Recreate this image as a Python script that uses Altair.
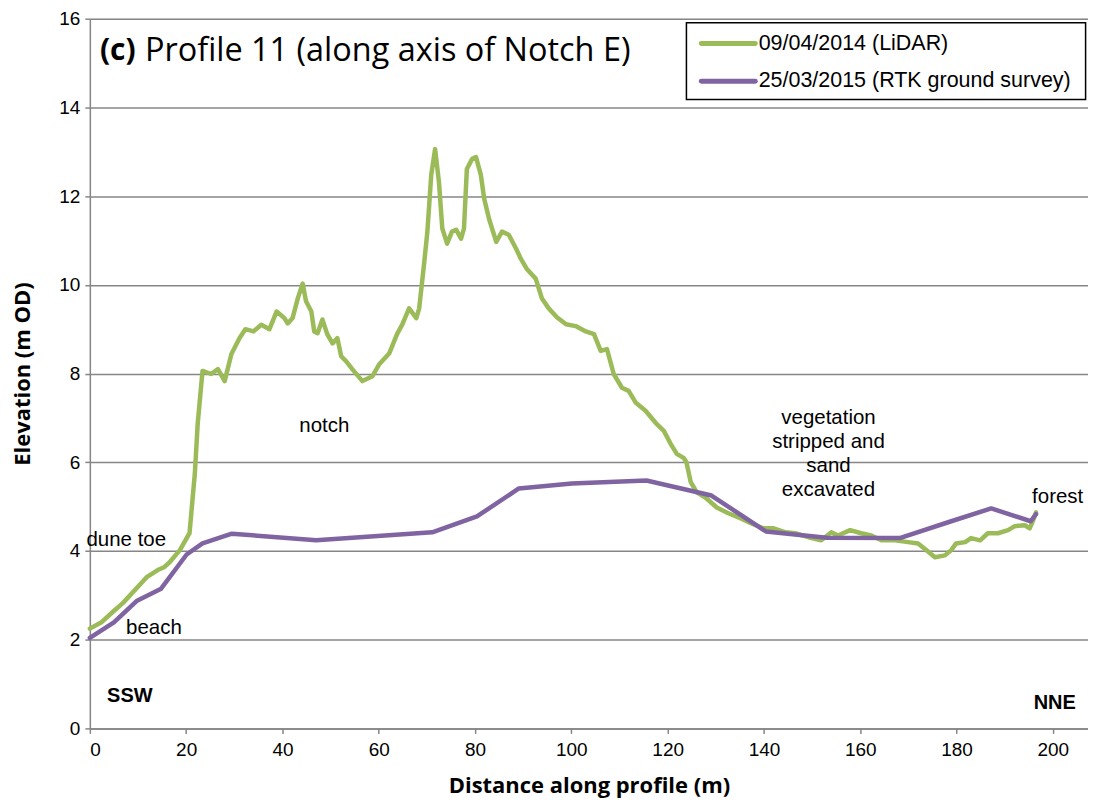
import altair as alt
import pandas as pd

# LiDAR 09/04/2014 (green)
green_x = [0, 2.5, 4.8, 6.9, 9.7, 11.8, 14.1, 15.5, 16.6, 18.7, 20.7, 21.8, 22.4, 23.4, 25.2, 26.6, 28.0, 29.4,
           31.1, 32.3, 34.0, 35.6, 37.3, 38.8, 40.4, 41.1, 42.1, 43.2, 44.2, 44.9, 46.0, 46.6, 47.3, 48.3, 49.3,
           50.4, 51.4, 52.2, 53.2, 54.5, 56.6, 58.7, 60.1, 62.2, 63.8, 64.9, 66.3, 67.8, 68.4, 69.4, 70.1, 70.9,
           71.7, 72.5, 73.2, 74.2, 75.2, 76.1, 77.1, 77.7, 78.3, 79.4, 80.2, 81.2, 81.9, 82.9, 84.4, 85.6, 87.0,
           88.5, 89.5, 90.8, 92.6, 93.9, 95.3, 97.0, 98.9, 100.9, 103.0, 104.7, 106.1, 107.4, 108.8, 110.5, 111.9,
           113.4, 115.4, 117.5, 119.2, 120.6, 121.9, 123.3, 123.9, 124.8, 126.0, 127.9, 130.2, 132.6, 135.1, 137.4,
           139.9, 142.0, 144.5, 146.5, 149.2, 151.9, 154.0, 155.4, 157.9, 160.2, 162.3, 164.4, 167.3, 169.9, 172.0,
           173.7, 175.5, 177.6, 178.9, 179.9, 181.8, 183.0, 184.9, 186.5, 188.6, 190.7, 192.1, 194.2, 195.2, 195.9,
           196.5]
green_y = [2.25, 2.40, 2.63, 2.83, 3.16, 3.41, 3.57, 3.64, 3.75, 4.02, 4.40, 5.74, 6.87, 8.06, 7.99, 8.10, 7.83, 8.44,
           8.80, 9.00, 8.95, 9.10, 9.00, 9.40, 9.25, 9.13, 9.25, 9.70, 10.03, 9.63, 9.40, 8.95, 8.91, 9.22, 8.89,
           8.68, 8.80, 8.39, 8.28, 8.10, 7.83, 7.94, 8.21, 8.46, 8.89, 9.11, 9.47, 9.25, 9.47, 10.46, 11.20, 12.48,
           13.06, 12.32, 11.27, 10.93, 11.20, 11.24, 11.04, 11.27, 12.61, 12.84, 12.88, 12.48, 11.94, 11.49, 10.97,
           11.20, 11.13, 10.82, 10.59, 10.35, 10.14, 9.69, 9.47, 9.27, 9.11, 9.07, 8.95, 8.89, 8.51, 8.55, 7.99,
           7.68, 7.61, 7.34, 7.16, 6.89, 6.71, 6.42, 6.19, 6.10, 6.00, 5.55, 5.33, 5.20, 4.98, 4.85, 4.74, 4.62,
           4.51, 4.51, 4.42, 4.40, 4.31, 4.24, 4.42, 4.35, 4.47, 4.40, 4.35, 4.24, 4.24, 4.20, 4.17, 4.02, 3.86,
           3.90, 4.02, 4.17, 4.20, 4.29, 4.24, 4.40, 4.40, 4.47, 4.56, 4.58, 4.51, 4.69, 4.87]

# RTK ground survey 25/03/2015 (purple)
purple_x = [0, 5.0, 9.7, 14.8, 20.1, 23.4, 29.5, 47.0, 71.1, 80.4, 89.1, 100.1, 115.6, 129.1, 140.4, 153.0, 168.2,
            178.9, 187.2, 195.4, 196.5]
purple_y = [2.04, 2.39, 2.87, 3.15, 3.92, 4.17, 4.39, 4.24, 4.42, 4.78, 5.41, 5.52, 5.59, 5.25, 4.44, 4.30, 4.29,
            4.67, 4.96, 4.67, 4.83]

series_names = ["09/04/2014 (LiDAR)", "25/03/2015 (RTK ground survey)"]
series_colors = ["#9BBB59", "#8064A2"]

y_ticks = [0, 2, 4, 6, 8, 10, 12, 14, 16]
x_ticks = [0, 20, 40, 60, 80, 100, 120, 140, 160, 180, 200]

# annotations (data coordinates)
ann_text = ["notch", "vegetation\nstripped and\nsand\nexcavated", "forest", "beach"]
ann_x = [48.7, 153.4, 201.0, 13.3]
ann_y = [6.78, 6.96, 5.18, 2.22]
dune_text = ["dune toe"]
dune_x = [-0.7]
dune_y = [4.24]
dir_text = ["SSW", "NNE"]
dir_x = [8.3, 200.4]
dir_y = [0.72, 0.58]

# legend layout (data coordinates)
leg_box = {"x": 123.9, "x2": 206.8, "y": 14.18, "y2": 15.91}
leg_line_x = [127.0, 138.2]
leg_row_y = [15.44, 14.59]
leg_text_x = 138.9

rows = []
for x, y in zip(green_x, green_y):
    rows.append({"x": x, "y": y, "series": series_names[0], "o": 0})
for x, y in zip(purple_x, purple_y):
    rows.append({"x": x, "y": y, "series": series_names[1], "o": 1})
df = pd.DataFrame(rows)

xscale = alt.Scale(domain=[0, 207.3], nice=False, zero=False)
yscale = alt.Scale(domain=[0, 16], nice=False)
cscale = alt.Scale(domain=series_names, range=series_colors)

lines = alt.Chart(df).mark_line(strokeWidth=4.5, strokeJoin="round", strokeCap="round", clip=False).encode(
    x=alt.X("x:Q", scale=xscale,
            axis=alt.Axis(title="Distance along profile (m)", values=x_ticks, grid=False,
                          labelFont="Liberation Sans", labelFontSize=19, labelColor="#000",
                          labelPadding=7, tickSize=5, tickColor="#868686", domainColor="#868686",
                          domainWidth=1.5, tickWidth=1.5,
                          titleFont="Open Sans", titleFontSize=22, titleFontWeight="bold", titleColor="#000",
                          titlePadding=16)),
    y=alt.Y("y:Q", scale=yscale,
            axis=alt.Axis(title="Elevation (m OD)", values=y_ticks, grid=True, gridColor="#868686",
                          gridWidth=1.5, labelFont="Liberation Sans", labelFontSize=19, labelColor="#000",
                          labelPadding=5, tickSize=5, tickColor="#868686", domainColor="#868686",
                          domainWidth=1.5, tickWidth=1.5,
                          titleFont="Open Sans", titleFontSize=22, titleFontWeight="bold", titleColor="#000",
                          titlePadding=24)),
    color=alt.Color("series:N", scale=cscale, legend=None),
    order="o:Q",
    detail="series:N",
)

ann_df = pd.DataFrame({"t": ann_text, "x": ann_x, "y": ann_y})
ann = alt.Chart(ann_df).mark_text(font="Liberation Sans", fontSize=20.5, color="#000", lineBreak="\n",
                                  lineHeight=24, baseline="top", dy=-12).encode(
    x=alt.X("x:Q", scale=xscale), y=alt.Y("y:Q", scale=yscale), text="t:N")

dune_df = pd.DataFrame({"t": dune_text, "x": dune_x, "y": dune_y})
dune = alt.Chart(dune_df).mark_text(font="Liberation Sans", fontSize=20.5, color="#000", align="left").encode(
    x=alt.X("x:Q", scale=xscale), y=alt.Y("y:Q", scale=yscale), text="t:N")

dir_df = pd.DataFrame({"t": dir_text, "x": dir_x, "y": dir_y})
dirs = alt.Chart(dir_df).mark_text(font="Liberation Sans", fontSize=20, fontWeight="bold", color="#000").encode(
    x=alt.X("x:Q", scale=xscale), y=alt.Y("y:Q", scale=yscale), text="t:N")

title_df = pd.DataFrame({"a": ["(c)"], "b": ["Profile 11 (along axis of Notch E)"], "x": [2.1], "y": [15.28]})
t1 = alt.Chart(title_df).mark_text(font="Open Sans", fontSize=30, fontWeight="bold", color="#000", align="left").encode(
    x=alt.X("x:Q", scale=xscale), y=alt.Y("y:Q", scale=yscale), text="a:N")
t2 = alt.Chart(title_df).mark_text(font="Open Sans", fontSize=32.5, color="#000", align="left", dx=45).encode(
    x=alt.X("x:Q", scale=xscale), y=alt.Y("y:Q", scale=yscale), text="b:N")

box_df = pd.DataFrame([leg_box])
box = alt.Chart(box_df).mark_rect(fill="#fff", stroke="#000", strokeWidth=1.5).encode(
    x=alt.X("x:Q", scale=xscale), x2="x2:Q", y=alt.Y("y:Q", scale=yscale), y2="y2:Q")

leg_df = pd.DataFrame({"series": series_names, "x": [leg_line_x[0]] * 2, "x2": [leg_line_x[1]] * 2,
                       "y": leg_row_y, "tx": [leg_text_x] * 2})
leg_lines = alt.Chart(leg_df).mark_rule(strokeWidth=5, strokeCap="round").encode(
    x=alt.X("x:Q", scale=xscale), x2="x2:Q", y=alt.Y("y:Q", scale=yscale),
    color=alt.Color("series:N", scale=cscale, legend=None))
leg_text = alt.Chart(leg_df).mark_text(font="Liberation Sans", fontSize=21.5, color="#000", align="left").encode(
    x=alt.X("tx:Q", scale=xscale), y=alt.Y("y:Q", scale=yscale), text="series:N")

chart = alt.layer(lines, ann, dune, dirs, t1, t2, box, leg_lines, leg_text).properties(
    width=1000, height=711,
    autosize=alt.AutoSizeParams(type="none"),
    padding={"left": 82, "top": 10, "right": 0, "bottom": 70},
).configure_view(stroke=None).configure(background="#fff")

chart.save("out.html", embed_options={"renderer": "svg", "actions": False})
